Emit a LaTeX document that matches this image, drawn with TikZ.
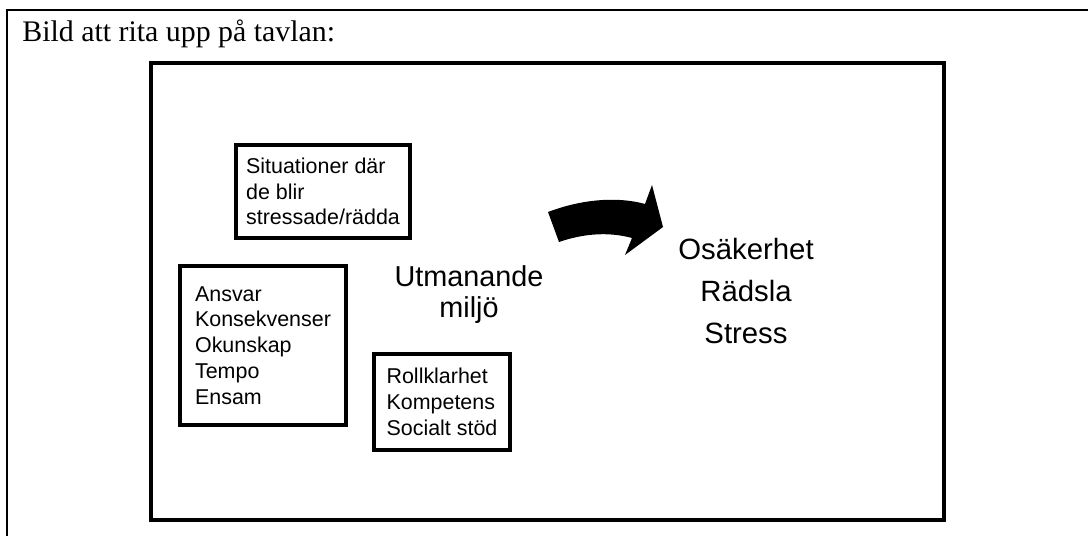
\documentclass[tikz,border=0pt]{standalone}
\usepackage{fontspec}
\setmainfont{Liberation Serif}
\newfontfamily\arialfont{Liberation Sans}

\tikzset{
  frame/.style={draw, line width=2.5pt, inner sep=0pt},
  listbox/.style={draw, line width=2.5pt, align=left, inner sep=0pt,
    font=\arialfont\fontsize{12.2}{14.7}\selectfont},
  middletext/.style={align=center, inner sep=0pt,
    font=\arialfont\fontsize{16.4}{17.6}\selectfont},
  feeltext/.style={align=center, inner sep=0pt,
    font=\arialfont\fontsize{16.7}{23.8}\selectfont}
}

\begin{document}
\begin{tikzpicture}[x=0.02cm, y=-0.02cm]
\useasboundingbox (0,0) rectangle (1088,536);

\draw [line width=1.1pt] (7,536) -- (7,10) -- (1088,10);
\node [anchor=base west, inner sep=0pt, font=\fontsize{17}{20}\selectfont] (title) at (22,42) {Bild att rita upp på tavlan:};

\node [frame, minimum width=15.86cm, minimum height=9.14cm] (board) at (547.5,291.5) {};

\node [listbox, minimum width=3.48cm, minimum height=1.86cm] (situations) at (323,191.5) {Situationer där\\de blir\\stressade/rädda};
\node [listbox, minimum width=3.32cm, minimum height=3.18cm] (causes) at (263,345.5) {Ansvar\\Konsekvenser\\Okunskap\\Tempo\\Ensam};
\node [listbox, minimum width=2.72cm, minimum height=1.92cm] (support) at (442,402) {Rollklarhet\\Kompetens\\Socialt stöd};

\node [middletext] (environment) at (469,295) {Utmanande\\miljö};

\fill (548,212) .. controls (585,198) and (620,197) .. (645,204) -- (652,185) -- (663,227) -- (625,255) -- (632,238) .. controls (610,232) and (585,233) .. (559,242) -- cycle;

\node [feeltext] (feelings) at (746,291) {Osäkerhet\\Rädsla\\Stress};

\end{tikzpicture}
\end{document}
